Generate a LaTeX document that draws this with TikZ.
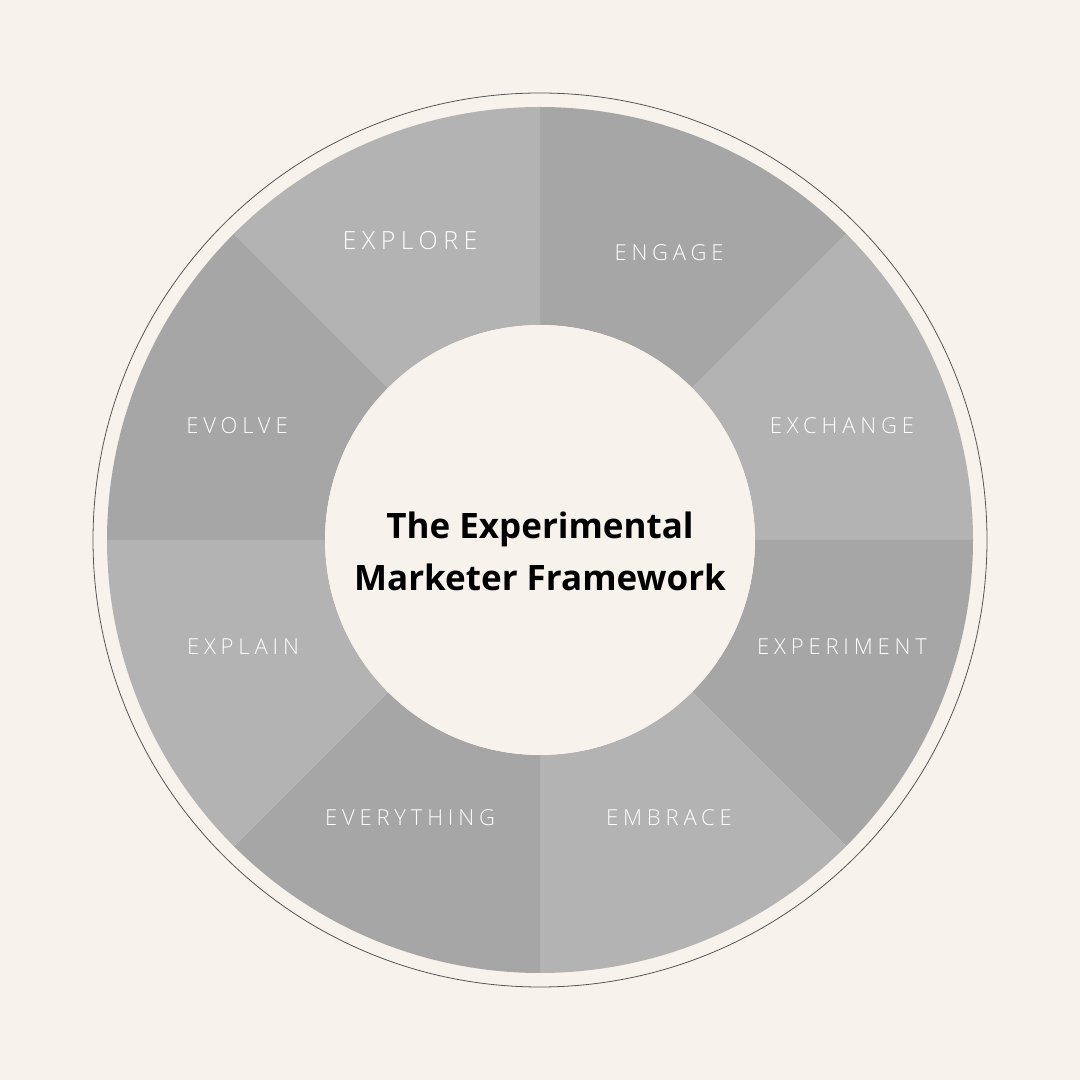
\documentclass[tikz,border=0pt]{standalone}
\usepackage{fontspec}
\usetikzlibrary{calc}
\setmainfont{Open Sans}
\newfontfamily\labelfont[LetterSpace=22]{Open Sans Light}
\newfontfamily\titlefont{Open Sans}
\definecolor{bgc}{HTML}{F8F2EC}
\definecolor{segdark}{HTML}{A6A6A6}
\definecolor{seglight}{HTML}{B3B3B3}
\definecolor{linec}{HTML}{555555}
\begin{document}
\begin{tikzpicture}[x=1pt,y=1pt,
  seglabel/.style={text=white,font=\labelfont\fontsize{22}{25}\selectfont,inner sep=0pt,anchor=center},
  biglabel/.style={seglabel,font=\labelfont\fontsize{25}{28}\selectfont},
  titletext/.style={text=black,font=\titlefont\bfseries\fontsize{35}{52}\selectfont,align=center,inner sep=0pt}]
\useasboundingbox (0,0) rectangle (1080,1080);
\fill[bgc] (0,0) rectangle (1080,1080);
\coordinate (c) at (540,540);
\draw[linec,line width=0.8pt] (c) circle[radius=447];
\foreach \a/\col in {90/segdark,45/seglight,0/segdark,-45/seglight,-90/segdark,-135/seglight,180/segdark,135/seglight}{
  \fill[\col] ($(c)+(\a:433)$) arc[start angle=\a,delta angle=-45,radius=433]
     -- ($(c)+(\a-45:215)$) arc[start angle=\a-45,delta angle=45,radius=215] -- cycle;
}
\fill[bgc] (c) circle[radius=215];
\node[biglabel] (explore) at (410,839) {EXPLORE};
\node[seglabel] (engage) at (669,827) {ENGAGE};
\node[seglabel] (exchange) at (842,654) {EXCHANGE};
\node[seglabel] (experiment) at (842,433) {EXPERIMENT};
\node[seglabel] (embrace) at (669,262) {EMBRACE};
\node[seglabel] (everything) at (410,262) {EVERYTHING};
\node[seglabel] (explain) at (243,433) {EXPLAIN};
\node[seglabel] (evolve) at (237,654) {EVOLVE};
\node[titletext] (title) at (540,529) {The Experimental\\Marketer Framework};
\end{tikzpicture}
\end{document}
